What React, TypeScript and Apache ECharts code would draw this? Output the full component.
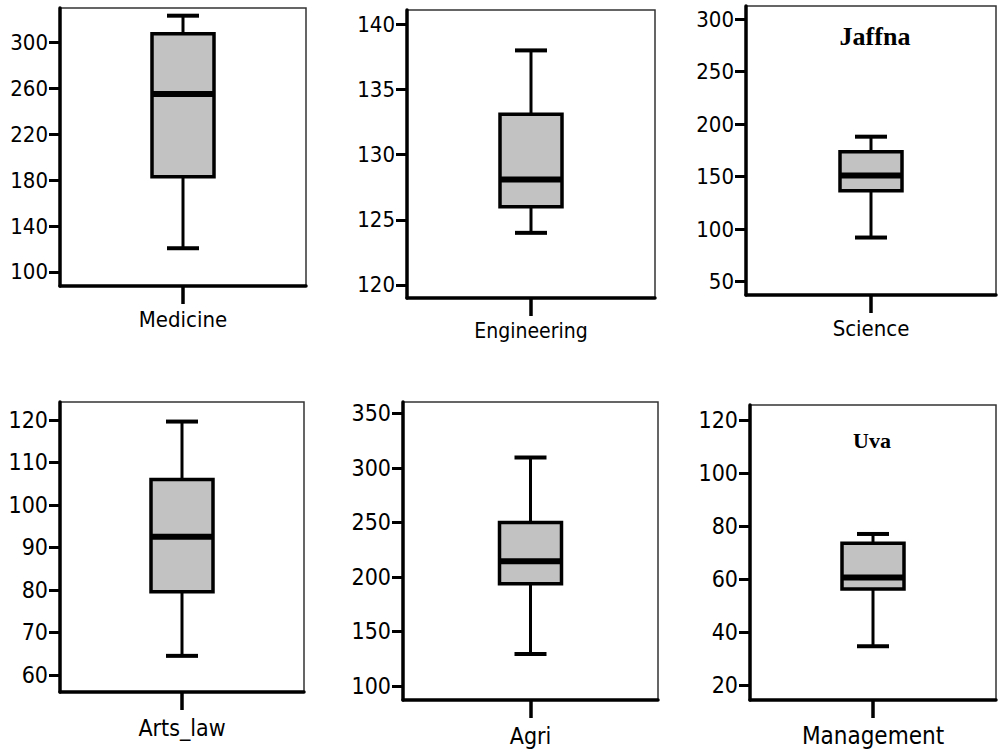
import React, { useEffect, useRef } from "react";
import * as echarts from "echarts";

// Category of each panel
const categories = ["Medicine", "Engineering", "Science", "Arts_law", "Agri", "Management"];

// Box statistics per panel: [min, Q1, median, Q3, max]
const medicine = [120.7, 183, 255, 307.5, 323.3];
const engineering = [124.0, 126.0, 128.1, 133.1, 138.0];
const science = [92, 136.6, 151, 173.7, 188];
const artsLaw = [64.5, 79.6, 92.5, 106, 119.6];
const agri = [129.4, 193.8, 214.4, 250, 309.5];
const management = [34.6, 56.2, 60.6, 73.5, 77];
const stats = [medicine, engineering, science, artsLaw, agri, management];

// Tick labels of each panel's value axis
const ticksMedicine = [100, 140, 180, 220, 260, 300];
const ticksEngineering = [120, 125, 130, 135, 140];
const ticksScience = [50, 100, 150, 200, 250, 300];
const ticksArtsLaw = [60, 70, 80, 90, 100, 110, 120];
const ticksAgri = [100, 150, 200, 250, 300, 350];
const ticksManagement = [20, 40, 60, 80, 100, 120];
const ticks = [ticksMedicine, ticksEngineering, ticksScience, ticksArtsLaw, ticksAgri, ticksManagement];

// Value-axis extents
const axisMin = [87.8, 119.0, 37.3, 56, 87.2, 14.3];
const axisMax = [330, 141.1, 312.4, 124.2, 360.4, 125.7];

// Panel titles (university)
const panelTitles = ["", "", "Jaffna", "", "", "Uva"];

// Layout (px)
const grids = [
  { left: 60, top: 8, width: 246, height: 278 },
  { left: 407, top: 10, width: 248, height: 288 },
  { left: 746, top: 6, width: 250, height: 289 },
  { left: 60, top: 402, width: 244, height: 290 },
  { left: 403, top: 402, width: 255, height: 298 },
  { left: 750, top: 405, width: 246, height: 295 },
];
const titlePos = [null, null, { x: 875, y: 36 }, null, null, { x: 872, y: 440 }];
const titleSize = [0, 0, 26, 0, 0, 22];
const tickFontSizes = [22, 22, 22, 23, 23, 23];
const catFontSizes = [22, 21, 22, 23, 23, 24];
const catMargins = [22, 22, 22, 24, 24, 24];

const FONT = "'DejaVu Sans Condensed', 'Liberation Sans', sans-serif";
const BOX_W = 62;
const CAP_W = 32;

export default function App() {
  const ref = useRef<HTMLDivElement>(null);
  useEffect(() => {
    if (!ref.current) return;
    const chart = echarts.init(ref.current, undefined, { renderer: "svg" });

    const renderItem = (params: any, api: any) => {
      const x = api.value(0);
      const pMin = api.coord([x, api.value(1)]);
      const pQ1 = api.coord([x, api.value(2)]);
      const pMed = api.coord([x, api.value(3)]);
      const pQ3 = api.coord([x, api.value(4)]);
      const pMax = api.coord([x, api.value(5)]);
      const cx = pMin[0];
      const bw = BOX_W / 2;
      const cw = CAP_W / 2;
      const ls = { stroke: "#000", lineWidth: 3 };
      const cs = { stroke: "#000", lineWidth: 4 };
      return {
        type: "group",
        children: [
          { type: "line", shape: { x1: cx, y1: pMin[1], x2: cx, y2: pQ1[1] }, style: ls },
          { type: "line", shape: { x1: cx, y1: pQ3[1], x2: cx, y2: pMax[1] }, style: ls },
          { type: "line", shape: { x1: cx - cw, y1: pMin[1], x2: cx + cw, y2: pMin[1] }, style: cs },
          { type: "line", shape: { x1: cx - cw, y1: pMax[1], x2: cx + cw, y2: pMax[1] }, style: cs },
          {
            type: "rect",
            shape: { x: cx - bw, y: pQ3[1], width: 2 * bw, height: pQ1[1] - pQ3[1] },
            style: { fill: "#c2c2c2", stroke: "#000", lineWidth: 3.5 },
          },
          {
            type: "line",
            shape: { x1: cx - bw, y1: pMed[1], x2: cx + bw, y2: pMed[1] },
            style: { stroke: "#000", lineWidth: 6 },
          },
        ],
      };
    };

    const option: any = {
      animation: false,
      backgroundColor: "#fff",
      grid: grids.map((g) => ({
        ...g,
        show: true,
        backgroundColor: "#fff",
        borderColor: "#333",
        borderWidth: 1.5,
        containLabel: false,
        outerBoundsMode: "none",
      })),
      xAxis: categories.map((c, i) => ({
        type: "category",
        gridIndex: i,
        data: [c],
        boundaryGap: true,
        axisLine: { show: true, lineStyle: { color: "#000", width: 3.5 } },
        axisTick: { show: true, alignWithLabel: true, length: 18, lineStyle: { color: "#000", width: 3.5 } },
        axisLabel: {
          color: "#000",
          fontFamily: FONT,
          fontSize: catFontSizes[i],
          margin: catMargins[i],
        },
        splitLine: { show: false },
      })),
      yAxis: ticks.map((t, i) => ({
        type: "value",
        gridIndex: i,
        min: axisMin[i],
        max: axisMax[i],
        axisLine: { show: true, lineStyle: { color: "#000", width: 3.5 } },
        axisTick: { show: true, length: 11, customValues: t, lineStyle: { color: "#000", width: 3 } },
        axisLabel: {
          customValues: t,
          color: "#000",
          fontFamily: FONT,
          fontSize: tickFontSizes[i],
          margin: 12,
        },
        splitLine: { show: false },
      })),
      series: stats.map((s, i) => ({
        type: "custom",
        xAxisIndex: i,
        yAxisIndex: i,
        renderItem,
        encode: { x: 0, y: [1, 2, 3, 4, 5] },
        data: [[0, ...s]],
        z: 5,
      })),
      graphic: panelTitles
        .map((t, i) =>
          t
            ? {
                type: "text",
                x: titlePos[i]!.x,
                y: titlePos[i]!.y,
                z: 10,
                style: {
                  text: t,
                  fill: "#000",
                  font: `bold ${titleSize[i]}px 'Liberation Serif', 'Times New Roman', serif`,
                  textAlign: "center",
                  textVerticalAlign: "middle",
                },
              }
            : null
        )
        .filter(Boolean),
    };
    chart.setOption(option);
    return () => chart.dispose();
  }, []);
  return (
    <div
      ref={ref}
      style={{ position: "fixed", left: 0, top: 0, width: 1004, height: 756, background: "#fff" }}
    />
  );
}
